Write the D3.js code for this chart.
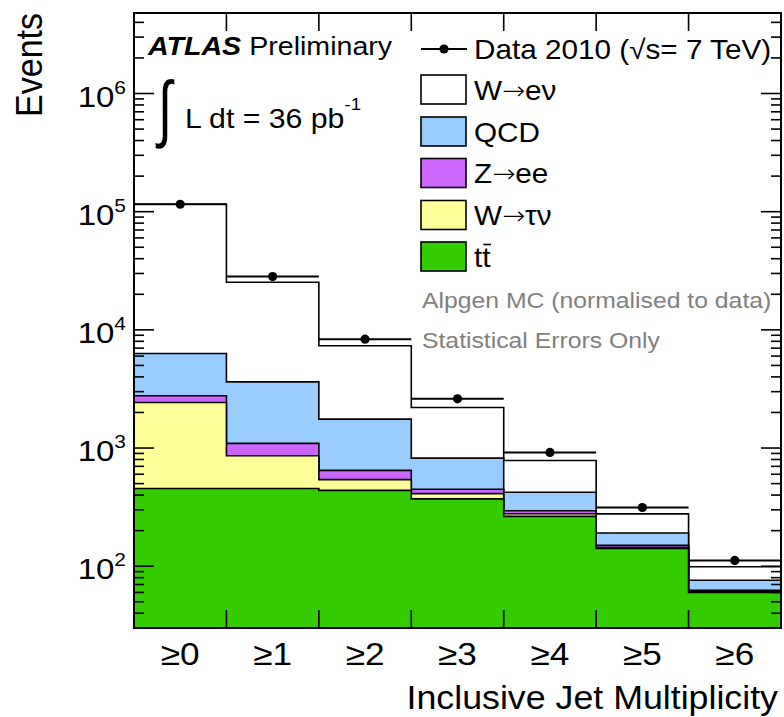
<!DOCTYPE html>
<html>
<head>
<meta charset="utf-8">
<script src="https://cdn.jsdelivr.net/npm/d3@7"></script>
<style>
  html, body { margin: 0; padding: 0; background: #fff; }
  svg { display: block; }
  text { font-family: "Liberation Sans", Arial, Helvetica, sans-serif; }
</style>
</head>
<body>
<svg id="chart" width="784" height="717"></svg>
<script>
// Inclusive jet multiplicity bins
const categories = ["≥0", "≥1", "≥2", "≥3", "≥4", "≥5", "≥6"];

// Observed events per bin
const dataEvents = [115600, 28230, 8340, 2610, 918, 314, 112];

// Expected contributions per process (stacked bottom to top)
const ttbar = [455, 455, 438, 371, 264, 141, 60];
const wtaunu = [1972, 406, 102, 40, 14, 3, 1];
const zee = [339, 233, 107, 37, 17, 6, 1.6];
const qcd = [3544, 2536, 1111, 374, 127, 41, 13.4];
const wenu = [109290, 21670, 5572, 1383, 363, 86, 23];

// Axis ticks
const yMajorTicks = [1e2, 1e3, 1e4, 1e5, 1e6];
const yTickExponents = ["2", "3", "4", "5", "6"];

const processes = [
  { key: "ttbar", values: ttbar, color: "#33cc00" },
  { key: "wtaunu", values: wtaunu, color: "#ffff99" },
  { key: "zee", values: zee, color: "#cc66ff" },
  { key: "qcd", values: qcd, color: "#99ccff" },
  { key: "wenu", values: wenu, color: "#ffffff" }
];

const legendRows = [
  { parts: ["W", "→", "eν"], color: "#ffffff" },
  { parts: ["QCD"], color: "#99ccff" },
  { parts: ["Z", "→", "ee"], color: "#cc66ff" },
  { parts: ["W", "→", "τν"], color: "#ffff99" },
  { parts: ["tt"], color: "#33cc00", bar: true }
];

const svg = d3.select("#chart");
const L = 134, R = 781, T = 13, B = 628;
const SX = 1.1; // horizontal glyph stretch

const x = d3.scaleBand().domain(categories).range([L, R]).padding(0);
const y = d3.scaleLog().domain([30, 4.8e6]).range([B, T]);

// Helper for stretched text
function label(parent, px, py, size, anchor, opts = {}) {
  const g = parent.append("g")
    .attr("transform", `translate(${px},${py}) scale(${SX},${opts.sy || 1})` + (opts.rotate ? ` rotate(${opts.rotate})` : ""));
  const t = g.append("text")
    .attr("font-size", size)
    .attr("text-anchor", anchor)
    .attr("fill", opts.fill || "#000");
  return t;
}

// Stacked data
const rows = categories.map((c, i) => {
  const r = { cat: c };
  processes.forEach(p => r[p.key] = p.values[i]);
  return r;
});
const stack = d3.stack().keys(processes.map(p => p.key));
const series = stack(rows);

const defs = svg.append("defs");
defs.append("clipPath").attr("id", "frame")
  .append("rect").attr("x", L).attr("y", T).attr("width", R - L).attr("height", B - T);

const plot = svg.append("g").attr("clip-path", "url(#frame)");

// Draw cumulative histograms from the top layer down
function stepPath(tops) {
  let d = `M${L},${B + 5}`;
  tops.forEach((v, i) => {
    const x0 = x(categories[i]);
    d += `L${x0},${y(v)}H${x0 + x.bandwidth()}`;
  });
  d += `V${B + 5}Z`;
  return d;
}

series.slice().reverse().forEach(s => {
  const p = processes.find(q => q.key === s.key);
  plot.append("path")
    .attr("d", stepPath(s.map(d => d[1])))
    .attr("fill", p.color)
    .attr("stroke", "#000")
    .attr("stroke-width", 1.6);
});

// Data points
const pts = plot.append("g");
dataEvents.forEach((v, i) => {
  const x0 = x(categories[i]);
  pts.append("line")
    .attr("x1", x0).attr("x2", x0 + x.bandwidth())
    .attr("y1", y(v)).attr("y2", y(v))
    .attr("stroke", "#000").attr("stroke-width", 2);
  pts.append("circle")
    .attr("cx", x0 + x.bandwidth() / 2).attr("cy", y(v)).attr("r", 4.6)
    .attr("fill", "#000");
});

// Frame
svg.append("rect")
  .attr("x", L).attr("y", T).attr("width", R - L).attr("height", B - T)
  .attr("fill", "none").attr("stroke", "#000").attr("stroke-width", 2);

// Y ticks (major and minor) on both sides
const axes = svg.append("g").attr("stroke", "#000").attr("stroke-width", 1.6);
const [yLo, yHi] = y.domain();
y.ticks().forEach(t => {
  if (t < yLo || t > yHi) return;
  const major = Math.abs(Math.log10(t) - Math.round(Math.log10(t))) < 1e-9;
  const len = major ? 20 : 10;
  const py = y(t);
  axes.append("line").attr("x1", L).attr("x2", L + len).attr("y1", py).attr("y2", py);
  axes.append("line").attr("x1", R).attr("x2", R - len).attr("y1", py).attr("y2", py);
});

// X ticks at bin edges, top and bottom
categories.slice(1).forEach(c => {
  const px = x(c);
  axes.append("line").attr("x1", px).attr("x2", px).attr("y1", B).attr("y2", B - 18);
  axes.append("line").attr("x1", px).attr("x2", px).attr("y1", T).attr("y2", T + 18);
});

// Y tick labels
yMajorTicks.forEach((t, i) => {
  const tx = label(svg, 126, y(t) + 13, 30, "end");
  tx.append("tspan").text("10");
  tx.append("tspan").attr("font-size", 19).attr("dy", -13).text(yTickExponents[i]);
});

// X tick labels
categories.forEach(c => {
  label(svg, x(c) + x.bandwidth() / 2, 665, 32, "middle").text(c);
});

// Axis titles
label(svg, 778, 709, 32.5, "end").text("Inclusive Jet Multiplicity");
label(svg, 42, 13, 34, "end", { rotate: -90 }).text("Events");

// ATLAS label
const atl = label(svg, 148, 55, 26, "start");
atl.append("tspan").attr("font-weight", "bold").attr("font-style", "italic").text("ATLAS");
atl.append("tspan").text(" Preliminary");

// Luminosity
label(svg, 158, 133, 46, "start", { sy: 1.6 }).attr("font-family", "Liberation Serif").text("∫");
const lum = label(svg, 185, 128, 27.5, "start");
lum.append("tspan").text("L dt = 36 pb");
lum.append("tspan").attr("font-size", 17).attr("dy", -18).text("-1");

// Legend: data entry
const leg = svg.append("g");
leg.append("line").attr("x1", 421).attr("x2", 467).attr("y1", 49).attr("y2", 49)
  .attr("stroke", "#000").attr("stroke-width", 2);
leg.append("circle").attr("cx", 444).attr("cy", 49).attr("r", 4.6).attr("fill", "#000");
label(leg, 474, 59, 27, "start").text("Data 2010 (√s= 7 TeV)");

// Legend: process entries
const rowY = [89.5, 131.5, 173, 215, 256.5];
legendRows.forEach((r, i) => {
  leg.append("rect")
    .attr("x", 421).attr("y", rowY[i] - 14.5).attr("width", 45).attr("height", 29)
    .attr("fill", r.color).attr("stroke", "#000").attr("stroke-width", 1.6);
  const t = label(leg, 474, rowY[i] + 10, 27, "start");
  r.parts.forEach(part => {
    const ts = t.append("tspan").text(part);
    if (part === "→") ts.attr("font-family", "DejaVu Sans").attr("font-size", 25).attr("font-weight", 300).attr("dy", -1);
    else if (t.selectAll("tspan").size() > 1) ts.attr("dy", 1);
  });
  if (r.bar) {
    // overline on the second t
    const g = d3.select(t.node().parentNode);
    g.append("line").attr("x1", 8.5).attr("x2", 15.5).attr("y1", -22).attr("y2", -22)
      .attr("stroke", "#000").attr("stroke-width", 1.6);
  }
});

label(leg, 422, 308, 22.5, "start", { fill: "#808080" }).text("Alpgen MC (normalised to data)");
label(leg, 422, 348, 22.5, "start", { fill: "#808080" }).text("Statistical Errors Only");
</script>
</body>
</html>
